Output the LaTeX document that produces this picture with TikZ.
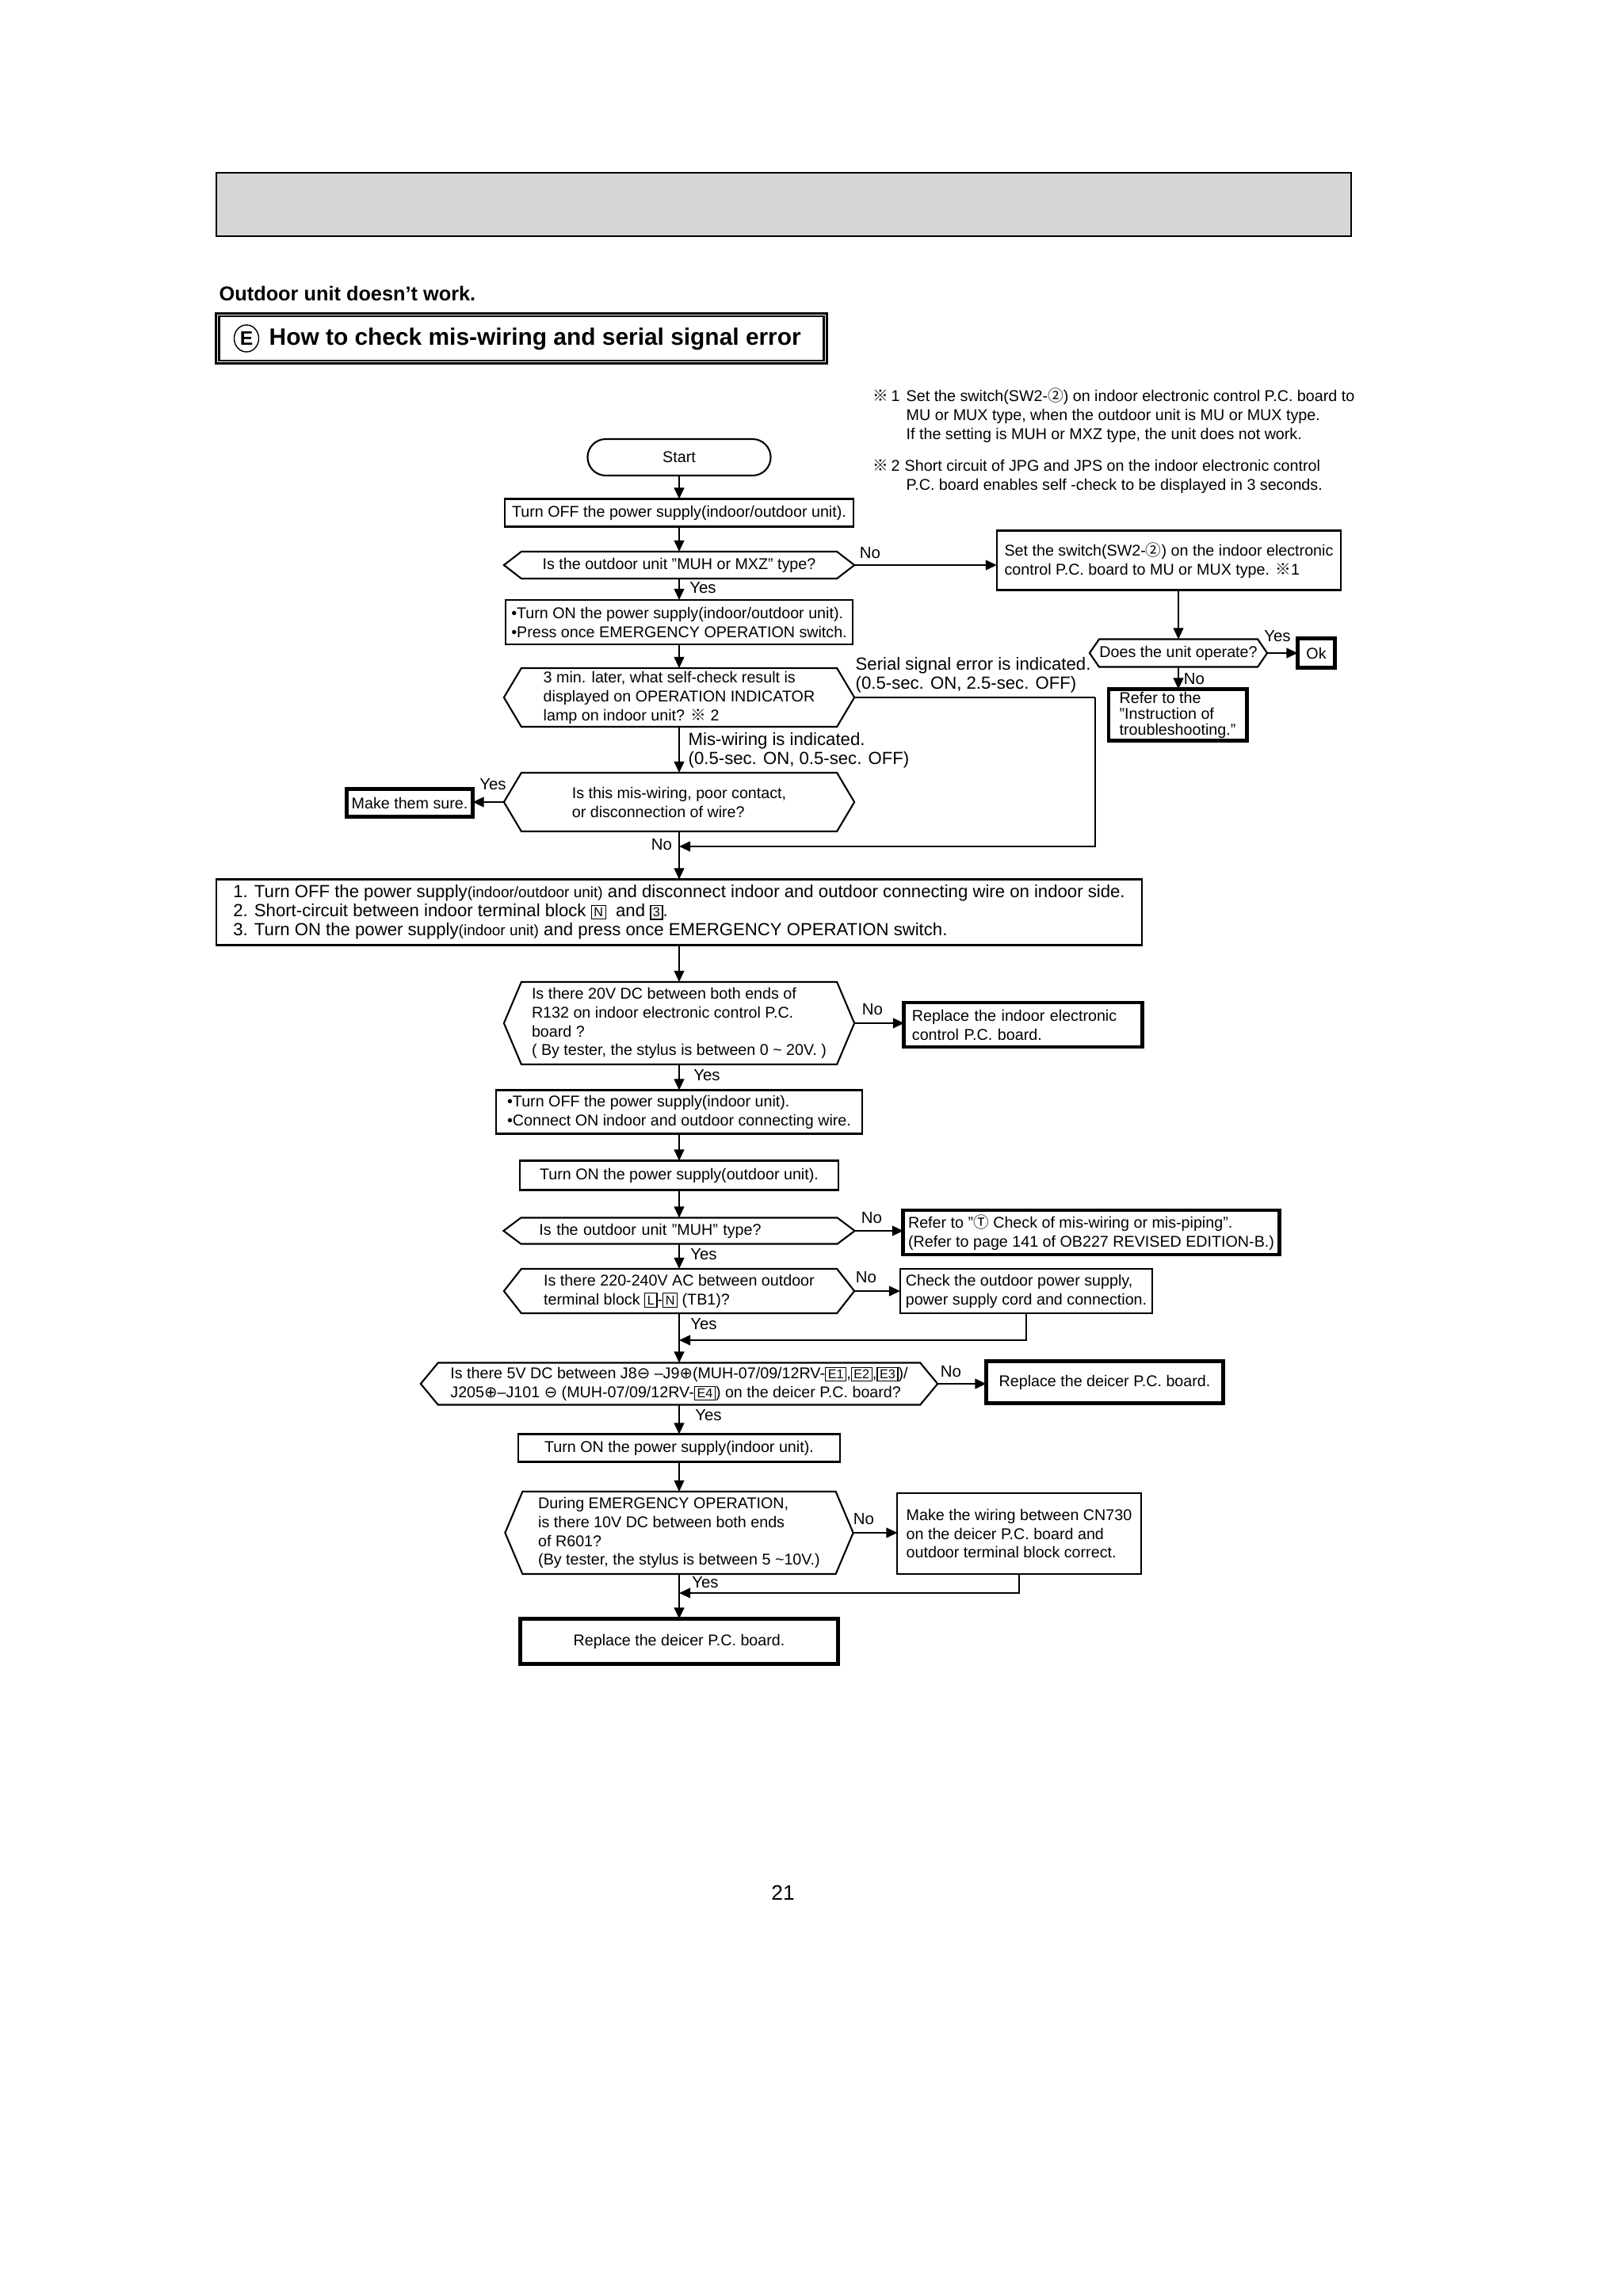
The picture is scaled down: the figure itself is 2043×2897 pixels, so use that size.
\documentclass[tikz,border=0pt]{standalone}
\usepackage{fontspec}
\setmainfont{Liberation Sans}
\newfontfamily\cjkfont{Noto Sans CJK JP}
\newfontfamily\symfont{DejaVu Sans}
\usetikzlibrary{arrows.meta,shapes.geometric}
\newcommand{\refmark}{{\cjkfont ※}}
\newcommand{\cnum}[1]{{\cjkfont #1}}
\newcommand{\csym}[1]{{\symfont #1}}
\newcommand{\sm}{\fontsize{5.4}{6.8}\selectfont}
\newcommand{\boxch}[1]{{\setlength{\fboxsep}{0.7pt}\setlength{\fboxrule}{0.35pt}\fbox{\fontsize{4.6}{4.8}\selectfont #1}}}
\newcommand{\hexa}[2]{\draw[line width=0.6pt] ([xshift=#2]#1.north west) -- ([xshift=-#2]#1.north east) -- (#1.east)
  -- ([xshift=-#2]#1.south east) -- ([xshift=#2]#1.south west) -- (#1.west) -- cycle;}
\begin{document}
\begin{tikzpicture}[x=0.01cm, y=-0.01cm,
  txt/.style={font=\fontsize{5.6}{6.8}\selectfont},
  proc/.style={txt, draw, line width=0.6pt, align=left, inner sep=0, outer sep=0},
  heavy/.style={proc, line width=1.4pt},
  dec/.style={txt, align=left, inner sep=0, outer sep=0},
  lab/.style={font=\fontsize{5.8}{6.8}\selectfont, inner sep=0},
  big/.style={font=\fontsize{6.3}{6.8}\selectfont, inner sep=0, align=left},
  arr/.style={-{Triangle[width=3.6pt,length=4pt]}, line width=0.6pt},
  line/.style={line width=0.6pt}]
  \useasboundingbox (0,0) rectangle (2043,2897);

  % page head
  \draw[line width=0.8pt, fill=black!16] (273,218) rectangle (1705,298);
  \node[anchor=west, inner sep=0, font=\fontsize{7.2}{8}\selectfont\bfseries] (head) at (276,370) {Outdoor unit doesn’t work.};
  \node[draw, line width=0.8pt, minimum width=7.70cm, minimum height=0.63cm, inner sep=0] (titlebox) at (658,427) {};
  \draw[line width=0.7pt] ([shift={(5,5)}]titlebox.north west) rectangle ([shift={(-5,-5)}]titlebox.south east);
  \node[draw, ellipse, line width=0.4pt, minimum width=0.31cm, minimum height=0.34cm, inner sep=0, font=\fontsize{7}{8}\selectfont\bfseries] (titleE) at (311,427) {E};
  \node[anchor=west, inner sep=0, font=\fontsize{8.5}{10}\selectfont\bfseries] (title) at (339,428) {How to check mis-wiring and serial signal error};

  % notes
  \node[txt, anchor=west, align=left, inner sep=0] (note1) at (1101,524) {\makebox[0.42cm][l]{\refmark\,1}Set the switch(SW2-\cnum{②}) on indoor electronic control P.C. board to\\
    \hspace*{0.42cm}MU or MUX type, when the outdoor unit is MU or MUX type.\\
    \hspace*{0.42cm}If the setting is MUH or MXZ type, the unit does not work.};
  \node[txt, anchor=west, align=left, inner sep=0] (note2) at (1101,601) {\makebox[0.40cm][l]{\refmark\,2}Short circuit of JPG and JPS on the indoor electronic control\\
    \hspace*{0.42cm}P.C. board enables self -check to be displayed in 3 seconds.};

  % flow
  \node[proc, rounded corners=0.23cm, minimum width=2.31cm, minimum height=0.46cm] (start) at (857,577) {Start};
  \node[proc, minimum width=4.40cm, minimum height=0.35cm] (offA) at (857,647) {Turn OFF the power supply(indoor/outdoor unit).};
  \node[dec, minimum width=4.42cm, minimum height=0.34cm] (typeQ) at (857,713) {Is the outdoor unit "MUH or MXZ" type?};
  \hexa{typeQ}{0.22cm}
  \node[proc, minimum width=4.34cm, minimum height=0.75cm] (setsw) at (1475,707) {Set the switch(SW2-\cnum{②}) on the indoor electronic\\control P.C. board to MU or MUX type. \refmark1};
  \node[proc, minimum width=4.38cm, minimum height=0.56cm] (onA) at (857,785) {•Turn ON the power supply(indoor/outdoor unit).\\•Press once EMERGENCY OPERATION switch.};
  \node[dec, minimum width=4.42cm, minimum height=0.74cm] (selfQ) at (857,880) {3 min. later, what self-check result is\\displayed on OPERATION INDICATOR\\lamp on indoor unit? \refmark\ 2};
  \hexa{selfQ}{0.22cm}
  \node[dec, minimum width=2.24cm, minimum height=0.35cm] (opQ) at (1487,824) {Does the unit operate?};
  \hexa{opQ}{0.12cm}
  \node[heavy, minimum width=0.47cm, minimum height=0.37cm] (ok) at (1661,824) {Ok};
  \node[heavy, minimum width=1.74cm, minimum height=0.65cm, font=\fontsize{5.6}{5.7}\selectfont] (instr) at (1486,902) {Refer to the\\"Instruction of\\troubleshooting."};
  \node[dec, minimum width=4.42cm, minimum height=0.74cm] (wireQ) at (857,1012) {Is this mis-wiring, poor contact,\\or disconnection of wire?};
  \hexa{wireQ}{0.22cm}
  \node[heavy, minimum width=1.59cm, minimum height=0.35cm] (sure) at (517,1013) {Make them sure.};
  \node[proc, minimum width=11.68cm, minimum height=0.83cm, font=\fontsize{6.3}{6.8}\selectfont] (steps) at (857,1151) {1. Turn OFF the power supply{\sm(indoor/outdoor unit)} and disconnect indoor and outdoor connecting wire on indoor side.\\
    2. Short-circuit between indoor terminal block \boxch{N}\ \ and \boxch{3}.\\
    3. Turn ON the power supply{\sm(indoor unit)} and press once EMERGENCY OPERATION switch.};
  \node[dec, minimum width=4.42cm, minimum height=1.04cm] (r132Q) at (857,1291) {Is there 20V DC between both ends of\\R132 on indoor electronic control P.C.\\board ?\\( By tester, the stylus is between 0 \textasciitilde{} 20V. )};
  \hexa{r132Q}{0.22cm}
  \node[heavy, minimum width=3.00cm, minimum height=0.56cm, text width=2.80cm, inner xsep=0.10cm] (repIn) at (1291,1293) {Replace the indoor electronic\\control P.C. board.};
  \node[proc, minimum width=4.62cm, minimum height=0.55cm] (offIn) at (857,1403) {•Turn OFF the power supply(indoor unit).\\•Connect ON indoor and outdoor connecting wire.};
  \node[proc, minimum width=4.02cm, minimum height=0.37cm] (onOut) at (857,1483) {Turn ON the power supply(outdoor unit).};
  \node[dec, minimum width=4.43cm, minimum height=0.33cm, text width=3.53cm, inner xsep=0.45cm] (muhQ) at (857,1553) {Is the outdoor unit "MUH" type?};
  \hexa{muhQ}{0.22cm}
  \node[heavy, minimum width=4.74cm, minimum height=0.56cm] (page141) at (1377,1555) {Refer to "\cnum{Ⓣ} Check of mis-wiring or mis-piping".\\(Refer to page 141 of OB227 REVISED EDITION-B.)};
  \node[dec, minimum width=4.42cm, minimum height=0.56cm] (acQ) at (857,1629) {Is there 220-240V AC between outdoor\\terminal block \boxch{L}-\boxch{N} (TB1)?};
  \hexa{acQ}{0.22cm}
  \node[proc, minimum width=3.18cm, minimum height=0.56cm] (chkPow) at (1295,1629) {Check the outdoor power supply,\\power supply cord and connection.};
  \node[dec, minimum width=6.52cm, minimum height=0.53cm] (dcQ) at (857,1746) {Is there 5V DC between J8\csym{⊖} –J9\csym{⊕}(MUH-07/09/12RV-\boxch{E1},\boxch{E2},\boxch{E3})/\\J205\csym{⊕}–J101 \csym{⊖} (MUH-07/09/12RV-\boxch{E4}) on the deicer P.C. board?};
  \hexa{dcQ}{0.22cm}
  \node[heavy, minimum width=2.99cm, minimum height=0.53cm] (repDeicerA) at (1394,1744) {Replace the deicer P.C. board.};
  \node[proc, minimum width=4.06cm, minimum height=0.35cm] (onIn) at (857,1827) {Turn ON the power supply(indoor unit).};
  \node[dec, minimum width=4.39cm, minimum height=1.04cm] (r601Q) at (857,1934) {During EMERGENCY OPERATION,\\is there 10V DC between both ends\\of R601?\\(By tester, the stylus is between 5 \textasciitilde10V.)};
  \hexa{r601Q}{0.22cm}
  \node[proc, minimum width=3.07cm, minimum height=1.02cm] (cn730) at (1286,1935) {Make the wiring between CN730\\on the deicer P.C. board and\\outdoor terminal block correct.};
  \node[heavy, minimum width=4.01cm, minimum height=0.57cm] (repDeicerB) at (857,2071) {Replace the deicer P.C. board.};

  \coordinate (serial) at (1382,880);
  \coordinate (join1) at (857,1068);
  \coordinate (join2) at (857,1691);
  \coordinate (join3) at (857,2010);

  % connectors
  \draw[arr] (start) -- (offA);
  \draw[arr] (offA) -- (typeQ);
  \draw[arr] (typeQ.east) -- (typeQ.east -| setsw.west);
  \draw[arr] (typeQ) -- (onA);
  \draw[arr] (onA) -- (selfQ);
  \draw[arr] (setsw.south -| opQ.north) -- (opQ.north);
  \draw[arr] (opQ.east) -- (ok.west);
  \draw[arr] (opQ.south) -- (opQ.south |- instr.north);
  \draw[line] (selfQ.east) -- (serial);
  \draw[arr] (serial) |- (join1);
  \draw[arr] (selfQ) -- (wireQ);
  \draw[arr] (wireQ.west) -- (wireQ.west -| sure.east);
  \draw[arr] (wireQ) -- (steps);
  \draw[arr] (steps) -- (r132Q);
  \draw[arr] (r132Q.east) -- (r132Q.east -| repIn.west);
  \draw[arr] (r132Q) -- (offIn);
  \draw[arr] (offIn) -- (onOut);
  \draw[arr] (onOut) -- (muhQ);
  \draw[arr] (muhQ.east) -- (muhQ.east -| page141.west);
  \draw[arr] (muhQ) -- (acQ);
  \draw[arr] (acQ.east) -- (chkPow.west);
  \draw[arr] (chkPow.south) |- (join2);
  \draw[arr] (acQ) -- (dcQ);
  \draw[arr] (dcQ.east) -- (dcQ.east -| repDeicerA.west);
  \draw[arr] (dcQ) -- (onIn);
  \draw[arr] (onIn) -- (r601Q);
  \draw[arr] (r601Q.east) -- (r601Q.east -| cn730.west);
  \draw[arr] (cn730.south) |- (join3);
  \draw[arr] (r601Q) -- (repDeicerB);

  % labels
  \node[big, anchor=west] (serialLab) at (1079,852) {Serial signal error is indicated.\\(0.5-sec. ON, 2.5-sec. OFF)};
  \node[big, anchor=west] (misLab) at (868,947) {Mis-wiring is indicated.\\(0.5-sec. ON, 0.5-sec. OFF)};
  \node[lab] (noType) at (1098,698) {No};
  \node[lab] (yesType) at (887,742) {Yes};
  \node[lab] (yesOp) at (1612,803) {Yes};
  \node[lab] (noOp) at (1507,857) {No};
  \node[lab] (yesWire) at (622,990) {Yes};
  \node[lab] (noWire) at (835,1066) {No};
  \node[lab] (noR132) at (1101,1274) {No};
  \node[lab] (yesR132) at (892,1357) {Yes};
  \node[lab] (noMuh) at (1100,1537) {No};
  \node[lab] (yesMuh) at (888,1583) {Yes};
  \node[lab] (noAc) at (1093,1612) {No};
  \node[lab] (yesAc) at (888,1671) {Yes};
  \node[lab] (noDc) at (1200,1731) {No};
  \node[lab] (yesDc) at (894,1786) {Yes};
  \node[lab] (noR601) at (1090,1917) {No};
  \node[lab] (yesR601) at (890,1997) {Yes};

  \node[font=\fontsize{7.5}{9}\selectfont, inner sep=0] (pageno) at (988,2388) {21};
\end{tikzpicture}
\end{document}
